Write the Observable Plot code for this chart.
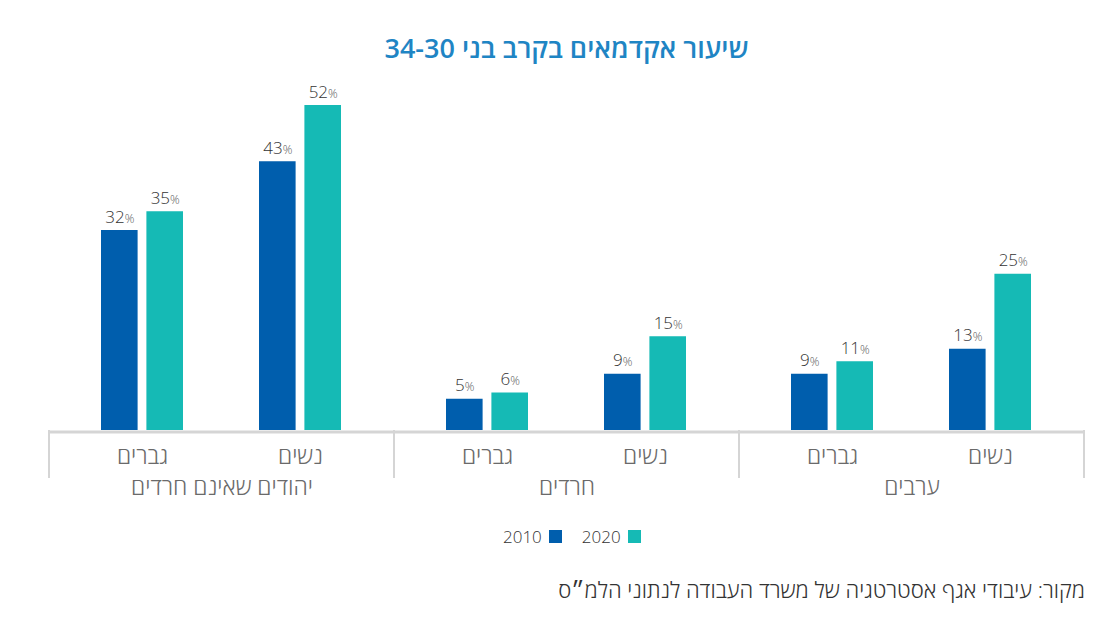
<!DOCTYPE html>
<html lang="he">
<head>
<meta charset="utf-8">
<script src="https://cdn.jsdelivr.net/npm/d3@7"></script>
<script src="https://cdn.jsdelivr.net/npm/@observablehq/plot@0.6"></script>
<style>
  html, body { margin: 0; padding: 0; background: #fff; }
  body { width: 1102px; height: 631px; position: relative; overflow: hidden;
         font-family: "Open Sans", "Liberation Sans", "DejaVu Sans", sans-serif; }
  #title { position: absolute; left: 48px; width: 1037px; top: 29px; text-align: center;
           direction: rtl; font-size: 27px; font-weight: 600; color: #1f85c4; line-height: 38px; }
  #chart { position: absolute; left: 0; top: 70px; }
  #legend { position: absolute; left: 503px; top: 525px; display: flex; align-items: center;
            font-size: 17px; font-weight: 300; color: #333; direction: ltr; }
  #legend .item { display: flex; align-items: center; margin-right: 20px; }
  #legend .sw { width: 13px; height: 13px; margin-left: 7px; display: inline-block; }
  #caption { position: absolute; right: 17px; top: 575px; direction: rtl; font-size: 22px;
             font-weight: 300; color: #333; line-height: 28px; }
</style>
</head>
<body>
<div id="title"></div>
<div id="chart"></div>
<div id="legend"></div>
<div id="caption"></div>
<script>
// ---- data ----
const titleText = "שיעור אקדמאים בקרב בני 34-30";
const captionText = "מקור: עיבודי אגף אסטרטגיה של משרד העבודה לנתוני הלמ״ס";
const groups = ["יהודים שאינם חרדים", "חרדים", "ערבים"];
const genders = ["גברים", "נשים"];
const years = ["2010", "2020"];
const colors = ["#005ead", "#15bab5"];
// values per group: [גברים, נשים]
const values2010 = [[32, 43], [5, 9], [9, 13]];
const values2020 = [[35, 52], [6, 15], [11, 25]];

// ---- build table ----
const data = [];
groups.forEach((g, i) => genders.forEach((s, j) => {
  data.push({group: g, gender: s, year: years[0], value: values2010[i][j]});
  data.push({group: g, gender: s, year: years[1], value: values2020[i][j]});
}));
const d2010 = data.filter(d => d.year === years[0]);
const d2020 = data.filter(d => d.year === years[1]);

document.getElementById("title").textContent = titleText;
document.getElementById("caption").textContent = captionText;

const font = '"Open Sans", "Liberation Sans", "DejaVu Sans", sans-serif';
const inset = 45.4;   // half-band split between the two year bars
const off = 22.7;     // centre offset of each year bar inside the band

const plot = Plot.plot({
  width: 1102,
  height: 440,
  marginLeft: 48,
  marginRight: 17,
  marginTop: 35,
  marginBottom: 80,
  style: {fontFamily: font, background: "transparent", overflow: "visible"},
  fx: {domain: groups, padding: 0, label: null},
  x: {domain: genders, paddingInner: 0.48, paddingOuter: 0.325, label: null},
  y: {domain: [0, 52], axis: null},
  color: {domain: years, range: colors},
  marks: [
    Plot.ruleY([0], {stroke: "#d5d5d5", strokeWidth: 3, dy: 1.5}),
    Plot.barY(d2010, {fx: "group", x: "gender", y: "value", fill: "year", insetRight: inset}),
    Plot.barY(d2020, {fx: "group", x: "gender", y: "value", fill: "year", insetLeft: inset}),
    Plot.text(d2010, {fx: "group", x: "gender", y: "value", text: d => d.value + "%", dx: -off, dy: -8,
      lineAnchor: "bottom", fontSize: 17, fontWeight: 300, fill: "#333", className: "vlabel"}),
    Plot.text(d2020, {fx: "group", x: "gender", y: "value", text: d => d.value + "%", dx: off, dy: -8,
      lineAnchor: "bottom", fontSize: 17, fontWeight: 300, fill: "#333", className: "vlabel"}),
    Plot.axisX({anchor: "bottom", tickSize: 0, tickPadding: 17, fontSize: 23, fontWeight: 300, color: "#6a6a6a", label: null}),
    Plot.axisFx({anchor: "bottom", tickSize: 0, tickPadding: 48, fontSize: 23, fontWeight: 300, color: "#6a6a6a", label: null})
  ]
});

// smaller percent sign
d3.select(plot).selectAll("g.vlabel text").each(function() {
  const t = this.textContent;
  if (t.endsWith("%")) {
    const sel = d3.select(this);
    sel.text(t.slice(0, -1));
    sel.append("tspan").attr("font-size", 12).attr("fill", "#555").text("%");
  }
});

// group separators at facet boundaries, from the library's scales
const fx = plot.scale("fx");
const y = plot.scale("y");
const y0 = y.apply(0);
const bounds = groups.map(g => fx.apply(g)).concat([fx.apply(groups[groups.length - 1]) + fx.bandwidth]);
const sepG = d3.select(plot).append("g").attr("stroke", "#d5d5d5").attr("stroke-width", 2);
bounds.forEach(b => {
  sepG.append("line").attr("x1", b).attr("x2", b).attr("y1", y0).attr("y2", y0 + 48);
});

document.getElementById("chart").appendChild(plot);

// legend
const leg = document.getElementById("legend");
years.forEach((yr, i) => {
  const item = document.createElement("span");
  item.className = "item";
  const txt = document.createElement("span");
  txt.textContent = yr;
  const sw = document.createElement("span");
  sw.className = "sw";
  sw.style.background = colors[i];
  item.appendChild(txt);
  item.appendChild(sw);
  leg.appendChild(item);
});
</script>
</body>
</html>
